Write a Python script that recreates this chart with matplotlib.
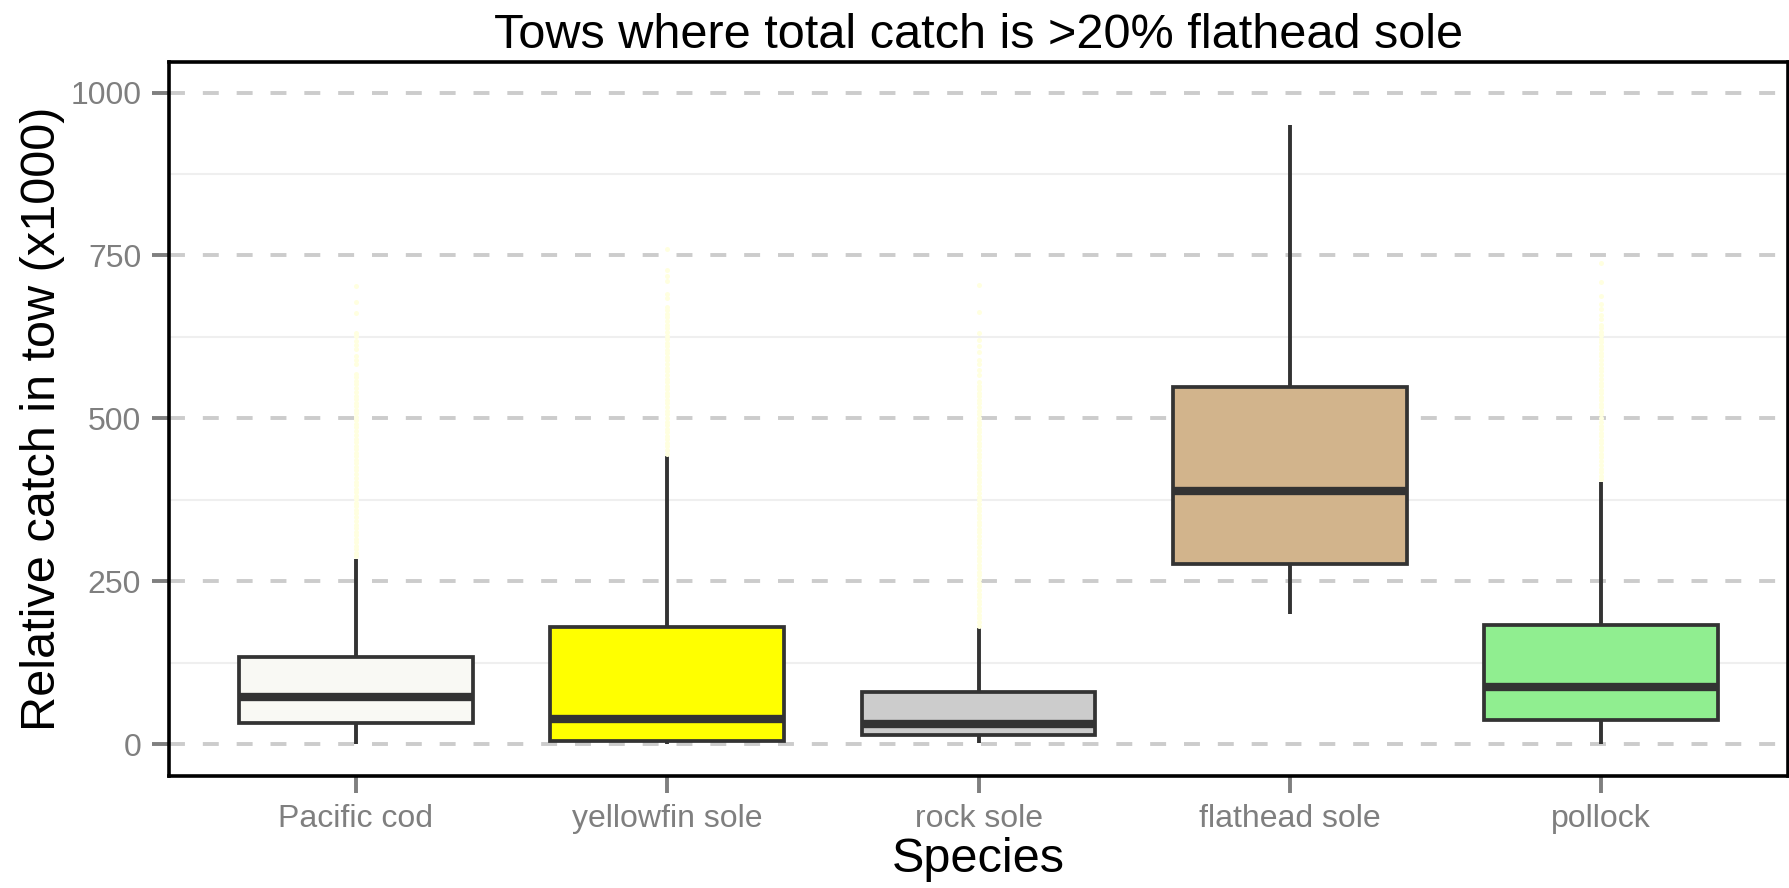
import matplotlib
matplotlib.use("Agg")
import matplotlib.pyplot as plt
from matplotlib.ticker import MultipleLocator

#Species and box stats, units x1000
species = ["Pacific cod", "yellowfin sole", "rock sole", "flathead sole", "pollock"]
fills = ["#F9F9F4", "#FFFF00", "#CCCCCC", "#D2B48C", "#90EE90"]
q1 = [33, 4, 14, 276, 37]
med = [72, 38, 31, 389, 88]
q3 = [133, 180, 80, 548, 183]
whis_lo = [0, 0, 1, 199, 0]
whis_hi = [284, 442, 178, 951, 403]

#Outliers, stacked so densely they read as a pale streak
cod_out = [288, 293, 299, 304, 310, 315, 321, 326, 332, 337, 343, 348, 354, 359,
           365, 370, 376, 381, 387, 392, 398, 403, 409, 414, 420, 425, 431, 436,
           442, 447, 453, 458, 464, 469, 475, 480, 486, 491, 497, 502, 508, 513,
           519, 524, 530, 535, 541, 546, 552, 557, 563, 568, 584, 590, 596, 606,
           612, 618, 626, 631, 661, 679, 703]
yfs_out = [446, 451, 457, 462, 468, 473, 479, 484, 490, 495, 501, 506, 512, 517,
           523, 528, 534, 539, 545, 550, 556, 561, 567, 572, 578, 583, 589, 594,
           600, 605, 611, 616, 622, 627, 633, 638, 644, 649, 655, 660, 666, 671,
           684, 691, 711, 719, 727, 760]
rock_out = [182, 187, 193, 198, 204, 209, 215, 220, 226, 231, 237, 242, 248, 253,
            259, 264, 270, 275, 281, 286, 292, 297, 303, 308, 314, 319, 325, 330,
            336, 341, 347, 352, 358, 363, 369, 374, 380, 385, 391, 396, 402, 407,
            413, 418, 424, 429, 435, 440, 446, 451, 457, 462, 468, 473, 479, 484,
            490, 495, 501, 506, 512, 517, 523, 528, 534, 539, 545, 550, 556, 566,
            574, 583, 590, 602, 611, 620, 631, 663, 704]
flat_out = []
pol_out = [407, 412, 418, 423, 429, 434, 440, 445, 451, 456, 462, 467, 473, 478,
           484, 489, 495, 500, 506, 511, 517, 522, 528, 533, 539, 544, 550, 555,
           561, 566, 573, 578, 584, 589, 595, 600, 606, 611, 617, 622, 628, 633,
           639, 644, 652, 659, 668, 676, 688, 710, 739]
outliers = [cod_out, yfs_out, rock_out, flat_out, pol_out]

TITLE = "Tows where total catch is >20% flathead sole"
XLAB = "Species"
YLAB = "Relative catch in tow (x1000)"

plt.rcParams["font.family"] = ["Liberation Sans", "DejaVu Sans"]
INK = "#333333"
TICKC = "#7F7F7F"

fig = plt.figure(figsize=(17.9, 8.88), dpi=100)
ax = fig.add_axes([169 / 1790, 1 - 776 / 888, (1788 - 169) / 1790, (776 - 62) / 888])

stats = []
for i, s in enumerate(species):
    stats.append(dict(label=s, med=med[i], q1=q1[i], q3=q3[i],
                      whislo=whis_lo[i], whishi=whis_hi[i], fliers=outliers[i]))

pos = list(range(1, len(species) + 1))
bp = ax.bxp(stats, positions=pos, widths=0.75, showcaps=False, patch_artist=True,
            boxprops=dict(edgecolor=INK, linewidth=2.7),
            whiskerprops=dict(color=INK, linewidth=2.8, solid_capstyle="butt"),
            medianprops=dict(color=INK, linewidth=6, solid_capstyle="butt"),
            flierprops=dict(marker="o", markerfacecolor="#FFFFE0",
                            markeredgecolor="none", markersize=3.6),
            zorder=3)
for patch, c in zip(bp["boxes"], fills):
    patch.set_facecolor(c)

ax.set_xlim(0.4, 5.6)
ax.set_ylim(-49, 1047)
ax.yaxis.set_major_locator(MultipleLocator(250))
ax.yaxis.set_minor_locator(MultipleLocator(125))
ax.grid(axis="y", which="major", color="#CCCCCC", linewidth=2.8,
        linestyle=(0, (4.1, 4.6)), zorder=0)
ax.grid(axis="y", which="minor", color="#EFEFEF", linewidth=1.5, zorder=0)
ax.grid(axis="x", visible=False)
ax.set_axisbelow(True)

for sp in ax.spines.values():
    sp.set_color("black")
    sp.set_linewidth(2.6)

ax.tick_params(axis="both", which="major", length=12, width=2.8, color=TICKC,
               labelcolor=TICKC, labelsize=23, pad=8)
ax.tick_params(axis="y", which="minor", length=0)
ax.set_xticks(pos)
ax.set_xticklabels(species)

ax.set_title(TITLE, fontsize=35, pad=10)
ax.set_xlabel(XLAB, fontsize=35, labelpad=2)
ax.set_ylabel(YLAB, fontsize=35, labelpad=3.5)

fig.savefig("out.png", dpi=100)
